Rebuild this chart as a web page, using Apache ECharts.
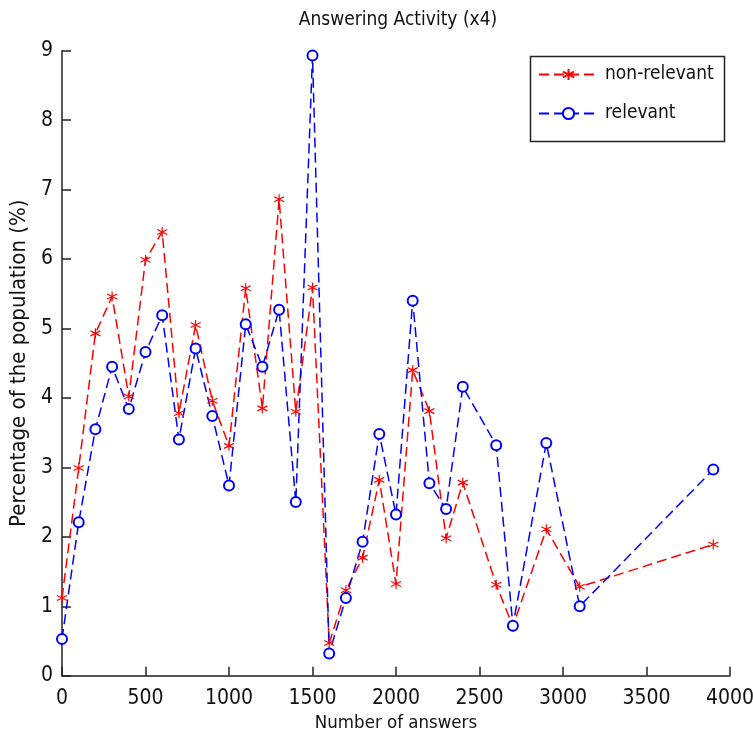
<!DOCTYPE html>
<html>
<head>
<meta charset="utf-8">
<script src="https://cdn.jsdelivr.net/npm/echarts@6/dist/echarts.min.js"></script>
<style>
html,body{margin:0;padding:0;background:#fff;}
#chart{width:753px;height:735px;}
</style>
</head>
<body>
<div id="chart"></div>
<script>
const xValues = [0,100,200,300,400,500,600,700,800,900,1000,1100,1200,1300,1400,1500,1600,1700,1800,1900,2000,2100,2200,2300,2400,2600,2700,2900,3100,3900];
const nonRelevant = [1.12,2.99,4.93,5.46,4.02,5.99,6.39,3.78,5.05,3.96,3.31,5.58,3.85,6.86,3.80,5.59,0.47,1.23,1.70,2.82,1.32,4.40,3.81,1.98,2.78,1.31,0.71,2.11,1.28,1.89];
const relevant = [0.53,2.21,3.55,4.45,3.84,4.66,5.19,3.40,4.71,3.74,2.74,5.06,4.45,5.27,2.50,8.93,0.32,1.12,1.93,3.48,2.32,5.40,2.77,2.40,4.16,3.32,0.72,3.35,1.00,2.97];
const xTicks = [0,500,1000,1500,2000,2500,3000,3500,4000];
const yTicks = [0,1,2,3,4,5,6,7,8,9];

const FONT = "'Liberation Sans Narrow','DejaVu Sans Condensed','Liberation Sans',sans-serif";
const asterisk = 'path://M5 0 L5 10 M0.7 2.5 L9.3 7.5 M0.7 7.5 L9.3 2.5';

const chart = echarts.init(document.getElementById('chart'), null, {renderer:'canvas'});
chart.setOption({
  animation:false,
  backgroundColor:'#fff',
  title:{
    text:'Answering Activity (x4)',
    left:393, top:6, textAlign:'center',
    textStyle:{fontFamily:FONT,fontSize:19,fontWeight:'normal',color:'#111'}
  },
  grid:{left:62,right:23,top:50.7,bottom:59.3,outerBoundsMode:'none'},
  xAxis:{
    type:'value',min:0,max:4000,interval:500,
    name:'Number of answers',nameLocation:'middle',nameGap:37,
    nameTextStyle:{fontFamily:FONT,fontSize:18.5,color:'#111'},
    axisLine:{show:true,lineStyle:{color:'#222',width:1.5}},
    axisTick:{show:true,inside:true,length:9,lineStyle:{color:'#222',width:1.5}},
    axisLabel:{fontFamily:FONT,fontSize:21,color:'#111',margin:12,
      formatter:v=>xTicks.includes(v)?String(v):''},
    splitLine:{show:false}
  },
  yAxis:{
    type:'value',min:0,max:9,interval:1,
    name:'Percentage of the population (%)',nameLocation:'middle',nameGap:27,nameRotate:90,
    nameTextStyle:{fontFamily:FONT,fontSize:22,color:'#111'},
    axisLine:{show:true,lineStyle:{color:'#222',width:1.5}},
    axisTick:{show:true,inside:true,length:9,lineStyle:{color:'#222',width:1.5}},
    axisLabel:{fontFamily:FONT,fontSize:21,color:'#111',margin:9,
      formatter:v=>yTicks.includes(v)?String(v):''},
    splitLine:{show:false}
  },
  legend:{
    orient:'vertical',left:538,top:65,padding:0,itemWidth:59,itemHeight:14,itemGap:20,
    textStyle:{fontFamily:FONT,fontSize:19,color:'#111',padding:[0,0,0,2]},
    data:['non-relevant','relevant']
  },
  graphic:[{
    type:'rect',left:528,top:54,shape:{width:194,height:85},
    style:{fill:'none',stroke:'#222',lineWidth:1.5},z:100
  }],
  series:[
    {
      name:'non-relevant',type:'line',
      data:xValues.map((x,i)=>[x,nonRelevant[i]]),
      symbol:asterisk,symbolSize:10,showAllSymbol:true,
      lineStyle:{color:'#ff0000',width:1.5,type:[10,5]},
      itemStyle:{color:'rgba(0,0,0,0)',borderColor:'#ff0000',borderWidth:1.2}
    },
    {
      name:'relevant',type:'line',
      data:xValues.map((x,i)=>[x,relevant[i]]),
      symbol:'emptyCircle',symbolSize:10,showAllSymbol:true,
      lineStyle:{color:'#0000ff',width:1.5,type:[10,5]},
      itemStyle:{color:'#0000ff',borderColor:'#0000ff',borderWidth:1.3}
    }
  ]
});
</script>
</body>
</html>
